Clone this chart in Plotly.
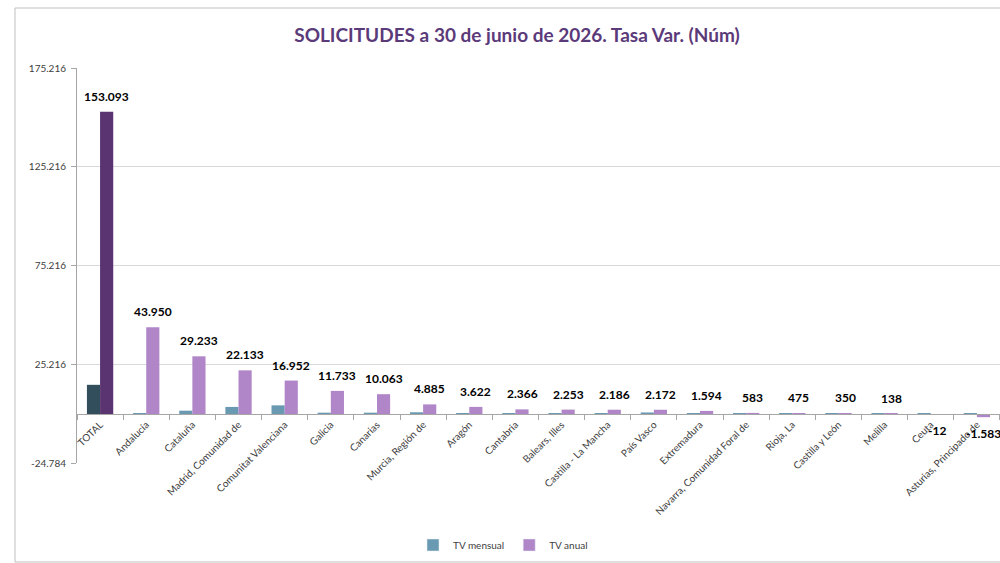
import plotly.graph_objects as go

categories = ["TOTAL", "Andalucía", "Cataluña", "Madrid, Comunidad de", "Comunitat Valenciana",
              "Galicia", "Canarias", "Murcia, Región de", "Aragón", "Cantabria", "Balears, Illes",
              "Castilla - La Mancha", "País Vasco", "Extremadura", "Navarra, Comunidad Foral de",
              "Rioja, La", "Castilla y León", "Melilla", "Ceuta", "Asturias, Principado de"]
tv_mensual = [14800, 300, 1700, 3600, 4400, 700, 700, 900, 500, 300, 200, 300, 800, 200, 200,
              100, 300, 100, 100, 300]
tv_anual = [153093, 43950, 29233, 22133, 16952, 11733, 10063, 4885, 3622, 2366, 2253, 2186, 2172,
            1594, 583, 475, 350, 138, -12, -1583]
y_ticks = [-24784, 25216, 75216, 125216, 175216]


def fmt(v):
    s = f"{abs(v):,}".replace(",", ".")
    return ("-" if v < 0 else "") + s


W, H = 1003, 563
L, T = 77, 68
R = 0
B = H - 463
pw, ph = W - L - R, H - T - B

ymin, ymax = y_ticks[0], y_ticks[-1]
zero_frac = (0 - ymin) / (ymax - ymin)

BARGAP = 0.43
cat_w = pw / len(categories)
anual_dx = (1 - BARGAP) * cat_w / 4

C_M, C_A = "#6A9AB1", "#B086C8"
col_m = ["#324D5C"] + [C_M] * (len(categories) - 1)
col_a = ["#5A3470"] + [C_A] * (len(categories) - 1)

fig = go.Figure()
fig.add_trace(go.Bar(x=categories, y=tv_mensual, name="TV mensual", showlegend=False,
                     offsetgroup="m", marker=dict(color=col_m, line=dict(width=0))))
fig.add_trace(go.Bar(x=categories, y=tv_anual, name="TV anual", showlegend=False,
                     offsetgroup="a", marker=dict(color=col_a, line=dict(width=0))))
# legend entries with the regular series colours (share the offset groups)
fig.add_trace(go.Bar(x=[None], y=[None], name="TV mensual", marker=dict(color=C_M),
                     offsetgroup="m", showlegend=True, hoverinfo="skip"))
fig.add_trace(go.Bar(x=[None], y=[None], name="TV anual", marker=dict(color=C_A),
                     offsetgroup="a", showlegend=True, hoverinfo="skip"))

annotations = []
for c, v in zip(categories, tv_anual):
    annotations.append(dict(
        x=c, y=v, xref="x", yref="y", text=f"<b>{fmt(v)}</b>", showarrow=False,
        xshift=anual_dx, yshift=6 if v >= 0 else -7,
        yanchor="bottom" if v >= 0 else "top", xanchor="center",
        font=dict(family="Lato", size=12, color="#000000")))

fig.update_layout(
    width=W, height=H,
    margin=dict(l=L, r=R, t=T, b=B, autoexpand=False),
    paper_bgcolor="white", plot_bgcolor="white",
    barmode="group", bargap=BARGAP, bargroupgap=0,
    font=dict(family="Lato", size=10, color="#404040"),
    title=dict(text="<b>SOLICITUDES a 30 de junio de 2026. Tasa Var. (Núm)</b>",
               x=517 / W, xanchor="center", y=1 - 35 / H, yanchor="middle",
               font=dict(family="Lato", size=19, color="#5B3A7A")),
    showlegend=True,
    legend=dict(orientation="h", x=(503 - L) / pw, xanchor="center",
                y=(463 - 545) / ph, yanchor="middle",
                font=dict(family="Lato", size=10, color="#404040"),
                itemwidth=30, traceorder="normal", bgcolor="rgba(0,0,0,0)"),
    xaxis=dict(anchor="free", position=zero_frac, showline=True, linecolor="#A6A6A6",
               linewidth=1, ticks="outside", tickson="boundaries", ticklen=5,
               tickcolor="#A6A6A6", tickangle=-45, showgrid=False, fixedrange=True,
               tickfont=dict(family="Lato", size=10, color="#404040")),
    yaxis=dict(range=[ymin, ymax], tickvals=y_ticks, ticktext=[fmt(v) for v in y_ticks],
               showline=True, linecolor="#A6A6A6", ticks="outside", ticklen=5,
               tickcolor="#A6A6A6", showgrid=True, gridcolor="#D9D9D9", gridwidth=1,
               ticklabelstandoff=3,
               zeroline=False, tickfont=dict(family="Lato", size=10, color="#404040")),
    annotations=annotations,
    shapes=[dict(type="rect", xref="paper", yref="paper",
                 x0=(15 - L) / pw, x1=(1010 - L) / pw,
                 y0=(463 - 562) / ph, y1=(463 - 8) / ph,
                 line=dict(color="#BFBFBF", width=1), fillcolor="rgba(0,0,0,0)", layer="below")],
)

fig.write_html("out.html", config={"displayModeBar": False},
               post_script="document.body.style.margin='0';"
                           "document.documentElement.style.overflow='hidden';")
